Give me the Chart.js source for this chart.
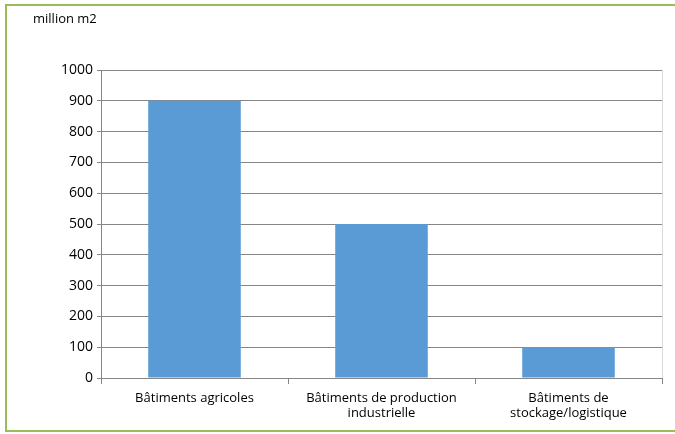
<!DOCTYPE html>
<html>
<head>
<meta charset="utf-8">
<script src="https://cdn.jsdelivr.net/npm/chart.js@4"></script>
<style>
  html, body { margin: 0; padding: 0; background: #fff; overflow: hidden; width: 675px; height: 434px; }
  #wrap { position: absolute; left: 0; top: 0; width: 675px; height: 434px; overflow: hidden; }
  .edge { position: absolute; background: #9bbb59; }
</style>
</head>
<body>
<div id="wrap">
<div class="edge" style="left:5px;top:4px;width:670px;height:2px"></div>
<div class="edge" style="left:5px;top:430px;width:670px;height:2px"></div>
<div class="edge" style="left:5px;top:4px;width:2px;height:428px"></div>
<canvas id="myChart" width="675" height="434" style="position:absolute;left:0;top:0"></canvas>
</div>
<script>
const categories = [
    ['Bâtiments agricoles'],
    ['Bâtiments de production', 'industrielle'],
    ['Bâtiments de', 'stockage/logistique']
];
const surfaces = [900, 500, 100];
const unitLabel = 'million m2';

const fontFamily = "'Open Sans', 'Noto Sans', sans-serif";

// unit text top-left + light right border of the plot
const extras = {
    id: 'extras',
    afterDraw(chart) {
        const ctx = chart.ctx;
        const area = chart.chartArea;
        ctx.save();
        ctx.strokeStyle = '#d9d9d9';
        ctx.lineWidth = 1;
        ctx.beginPath();
        ctx.moveTo(area.right + 0.5, area.top);
        ctx.lineTo(area.right + 0.5, area.bottom);
        ctx.stroke();
        ctx.fillStyle = '#000';
        ctx.font = '13px ' + fontFamily;
        ctx.textBaseline = 'middle';
        ctx.fillText(unitLabel, 33, 19);
        ctx.restore();
    }
};

const config = {
    type: 'bar',
    data: {
        labels: categories,
        datasets: [{
            data: surfaces,
            backgroundColor: '#5b9bd5',
            borderWidth: 0,
            barPercentage: 0.495,
            categoryPercentage: 1
        }]
    },
    options: {
        responsive: false,
        animation: false,
        layout: { padding: { top: 70, right: 13, left: 0, bottom: 0 } },
        plugins: {
            legend: { display: false },
            tooltip: { enabled: false }
        },
        scales: {
            x: {
                afterFit(scale) { scale.height = 56; },
                grid: { offset: true, drawOnChartArea: false, tickLength: 6, color: '#868686' },
                border: { color: '#868686' },
                ticks: { color: '#000', padding: 6, font: { family: fontFamily, size: 13 }, maxRotation: 0 }
            },
            y: {
                min: 0,
                max: 1000,
                afterFit(scale) { scale.width = 101; },
                grid: { color: '#868686', tickLength: 4 },
                border: { color: '#868686' },
                ticks: {
                    stepSize: 100,
                    color: '#000',
                    padding: 4,
                    font: { family: fontFamily, size: 14 },
                    callback: (v) => String(v)
                }
            }
        }
    },
    plugins: [extras]
};

const myChart = new Chart(document.getElementById("myChart"), config);
</script>
</body>
</html>
